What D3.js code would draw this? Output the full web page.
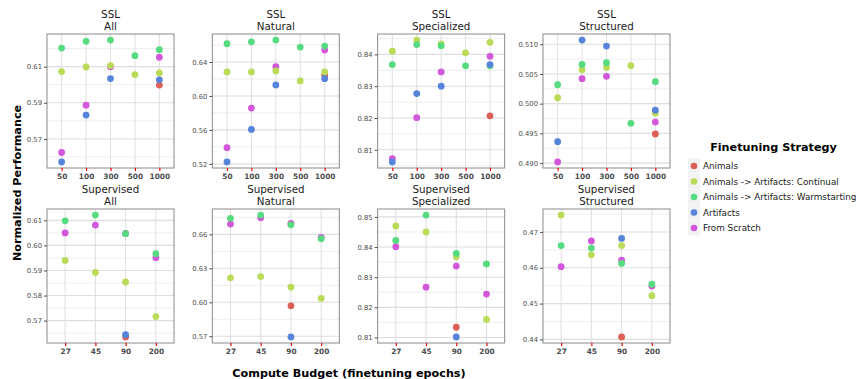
<!DOCTYPE html>
<html>
<head>
<meta charset="utf-8">
<script src="https://cdn.jsdelivr.net/npm/d3@7"></script>
<style>
  body { margin: 0; background: #fff; }
  svg { font-family: "DejaVu Sans", sans-serif; }
</style>
</head>
<body>
<svg id="chart" width="860" height="379"></svg>
<script>
// series, in drawing order of the legend
const seriesNames = ["Animals", "Animals -> Artifacts: Continual", "Animals -> Artifacts: Warmstarting", "Artifacts", "From Scratch"];
const seriesColors = ["#db5f57", "#b9db57", "#57db80", "#5784db", "#d357db"];
// order the points get painted (bottom first)
const drawOrder = [4, 0, 1, 2, 3];

const epochsSSL = ["50", "100", "300", "500", "1000"];
const epochsSup = ["27", "45", "90", "200"];

// values: one row per series (same order as seriesNames)
const sslAll = [
  [null, null, null, null, 0.5998],
  [0.6073, 0.6098, 0.6106, 0.6056, 0.6065],
  [0.6203, 0.6240, 0.6247, 0.6161, 0.6194],
  [0.5573, 0.5832, 0.6034, null, 0.6027],
  [0.5625, 0.5887, 0.6100, null, 0.6152]
];
const sslNatural = [
  [null, null, null, null, 0.6248],
  [0.6283, 0.6283, 0.6294, 0.6177, 0.6283],
  [0.6615, 0.6638, 0.6658, 0.6576, 0.6588],
  [0.5223, 0.5606, 0.6130, null, 0.6204],
  [0.5391, 0.5857, 0.6345, null, 0.6541]
];
const sslSpecialized = [
  [null, null, null, null, 0.8207],
  [0.8410, 0.8445, 0.8433, 0.8405, 0.8438],
  [0.8368, 0.8431, 0.8427, 0.8364, 0.8364],
  [0.8062, 0.8277, 0.8300, null, 0.8368],
  [0.8072, 0.8201, 0.8345, null, 0.8394]
];
const sslStructured = [
  [null, null, null, null, 0.4949],
  [0.5010, 0.5057, 0.5061, 0.5064, 0.4984],
  [0.5032, 0.5066, 0.5069, 0.4967, 0.5037],
  [0.4936, 0.5107, 0.5097, null, 0.4989],
  [0.4902, 0.5042, 0.5046, null, 0.4969]
];
const supAll = [
  [null, null, 0.5635, null],
  [0.5940, 0.5892, 0.5854, 0.5716],
  [0.6098, 0.6121, 0.6047, 0.5967],
  [null, null, 0.5644, null],
  [0.6050, 0.6081, 0.6048, 0.5951]
];
const supNatural = [
  [null, null, 0.5969, null],
  [0.6216, 0.6227, 0.6134, 0.6034],
  [0.6741, 0.6770, 0.6684, 0.6561],
  [null, null, 0.5694, null],
  [0.6691, 0.6746, 0.6697, 0.6574]
];
const supSpecialized = [
  [null, null, 0.8134, null],
  [0.8470, 0.8450, 0.8368, 0.8160],
  [0.8422, 0.8506, 0.8379, 0.8344],
  [null, null, 0.8102, null],
  [0.8401, 0.8267, 0.8337, 0.8244]
];
const supStructured = [
  [null, null, 0.4407, null],
  [0.4747, 0.4636, 0.4662, 0.4522],
  [0.4662, 0.4655, 0.4612, 0.4554],
  [null, null, 0.4682, null],
  [0.4603, 0.4675, 0.4621, 0.4549]
];

// y tick labels per panel
const ticksSslAll = ["0.57", "0.59", "0.61"];
const ticksSslNatural = ["0.52", "0.56", "0.60", "0.64"];
const ticksSslSpecialized = ["0.81", "0.82", "0.83", "0.84"];
const ticksSslStructured = ["0.490", "0.495", "0.500", "0.505", "0.510"];
const ticksSupAll = ["0.57", "0.58", "0.59", "0.60", "0.61"];
const ticksSupNatural = ["0.57", "0.60", "0.63", "0.66"];
const ticksSupSpecialized = ["0.81", "0.82", "0.83", "0.84", "0.85"];
const ticksSupStructured = ["0.44", "0.45", "0.46", "0.47"];

const groupTitles = ["SSL", "Supervised"];
const subsetTitles = ["All", "Natural", "Specialized", "Structured"];

const panels = [
  { row: 0, col: 0, cats: epochsSSL, vals: sslAll, ticks: ticksSslAll },
  { row: 0, col: 1, cats: epochsSSL, vals: sslNatural, ticks: ticksSslNatural },
  { row: 0, col: 2, cats: epochsSSL, vals: sslSpecialized, ticks: ticksSslSpecialized },
  { row: 0, col: 3, cats: epochsSSL, vals: sslStructured, ticks: ticksSslStructured },
  { row: 1, col: 0, cats: epochsSup, vals: supAll, ticks: ticksSupAll },
  { row: 1, col: 1, cats: epochsSup, vals: supNatural, ticks: ticksSupNatural },
  { row: 1, col: 2, cats: epochsSup, vals: supSpecialized, ticks: ticksSupSpecialized },
  { row: 1, col: 3, cats: epochsSup, vals: supStructured, ticks: ticksSupStructured }
];

const svg = d3.select("#chart");

// layout
const panelW = 127, panelH = 134;
const panelX0 = 47, panelStep = 165.33;
const panelTops = [34, 209];

panels.forEach(function(p) {
  let left = panelX0 + p.col * panelStep;
  let top = panelTops[p.row];
  let g = svg.append("g");

  // y scale with 5% expansion like ggplot
  let all = p.vals.flat().filter(v => v != null);
  let ext = d3.extent(all);
  let pad = (ext[1] - ext[0]) * 0.05;
  let y = d3.scaleLinear().domain([ext[0] - pad, ext[1] + pad]).range([top + panelH, top]);
  let x = d3.scalePoint().domain(p.cats).range([left, left + panelW]).padding(0.6);

  let tickVals = p.ticks.map(t => +t);
  let step = tickVals[1] - tickVals[0];
  // minor grid halfway between majors
  let minor = [];
  for (let v = tickVals[0] - step / 2; v < ext[1] + pad + step; v += step) {
    if (y(v) >= top && y(v) <= top + panelH) minor.push(v);
  }

  g.append("rect")
    .attr("x", left).attr("y", top)
    .attr("width", panelW).attr("height", panelH)
    .attr("fill", "#fff");

  g.selectAll(".minor").data(minor).enter().append("line")
    .attr("x1", left).attr("x2", left + panelW)
    .attr("y1", d => y(d)).attr("y2", d => y(d))
    .attr("stroke", "#ececec").attr("stroke-width", 0.9);

  g.selectAll(".major").data(tickVals).enter().append("line")
    .attr("x1", left).attr("x2", left + panelW)
    .attr("y1", d => y(d)).attr("y2", d => y(d))
    .attr("stroke", "#dedede").attr("stroke-width", 1.1);

  g.selectAll(".vgrid").data(p.cats).enter().append("line")
    .attr("x1", d => x(d)).attr("x2", d => x(d))
    .attr("y1", top).attr("y2", top + panelH)
    .attr("stroke", "#dadada").attr("stroke-width", 0.9);

  // points
  drawOrder.forEach(function(si) {
    let pts = p.vals[si].map((v, i) => ({ cat: p.cats[i], v: v })).filter(d => d.v != null);
    g.selectAll(null).data(pts).enter().append("circle")
      .attr("cx", d => x(d.cat))
      .attr("cy", d => y(d.v))
      .attr("r", 3.4)
      .attr("fill", seriesColors[si]);
  });

  g.append("rect")
    .attr("x", left).attr("y", top)
    .attr("width", panelW).attr("height", panelH)
    .attr("fill", "none").attr("stroke", "#8a8a8a").attr("stroke-width", 1);

  // y axis
  let yAxis = d3.axisLeft(y).tickValues(tickVals).tickFormat((d, i) => p.ticks[i]).tickSize(3).tickPadding(2);
  let ya = g.append("g").attr("transform", "translate(" + left + ",0)").call(yAxis);
  ya.select(".domain").remove();
  ya.selectAll("line").attr("stroke", "#4d4d4d");
  ya.selectAll("text").attr("fill", "#4d4d4d").style("font-size", "6.8px").style("font-family", "DejaVu Sans");

  // x axis (red tick marks)
  let xAxis = d3.axisBottom(x).tickSize(3).tickPadding(2.5);
  let xa = g.append("g").attr("transform", "translate(0," + (top + panelH) + ")").call(xAxis);
  xa.select(".domain").remove();
  xa.selectAll("line").attr("stroke", "#ee0000").attr("stroke-width", 1.2);
  xa.selectAll("text").attr("fill", "#4d4d4d").style("font-size", "7.4px").style("font-weight", "bold").style("font-family", "DejaVu Sans");

  // facet titles (two lines)
  let cx = left + panelW / 2;
  g.append("text").attr("x", cx).attr("y", top - 16)
    .attr("text-anchor", "middle").attr("fill", "#1a1a1a").style("font-size", "10.3px")
    .text(groupTitles[p.row]);
  g.append("text").attr("x", cx).attr("y", top - 4)
    .attr("text-anchor", "middle").attr("fill", "#1a1a1a").style("font-size", "10.3px")
    .text(subsetTitles[p.col]);
});

// axis titles
svg.append("text")
  .attr("x", 349).attr("y", 377)
  .attr("text-anchor", "middle")
  .style("font-size", "11.2px").style("font-weight", "bold")
  .text("Compute Budget (finetuning epochs)");

svg.append("text")
  .attr("transform", "translate(20.5,183) rotate(-90)")
  .attr("text-anchor", "middle")
  .style("font-size", "11.2px").style("font-weight", "bold")
  .text("Normalized Performance");

// legend
let leg = svg.append("g");
leg.append("text")
  .attr("x", 773.5).attr("y", 150.5)
  .attr("text-anchor", "middle")
  .style("font-size", "11.2px").style("font-weight", "bold")
  .text("Finetuning Strategy");

let rows = leg.selectAll(".item").data(seriesNames).enter().append("g")
  .attr("transform", (d, i) => "translate(688," + (158.5 + i * 15.5) + ")");
rows.append("rect")
  .attr("width", 12).attr("height", 15)
  .attr("fill", "#f2f2f2");
rows.append("circle")
  .attr("cx", 6).attr("cy", 7.5).attr("r", 3.3)
  .attr("fill", (d, i) => seriesColors[i]);
rows.append("text")
  .attr("x", 15).attr("y", 10.8)
  .attr("fill", "#1a1a1a")
  .style("font-size", "8.8px")
  .text(d => d);
</script>
</body>
</html>
